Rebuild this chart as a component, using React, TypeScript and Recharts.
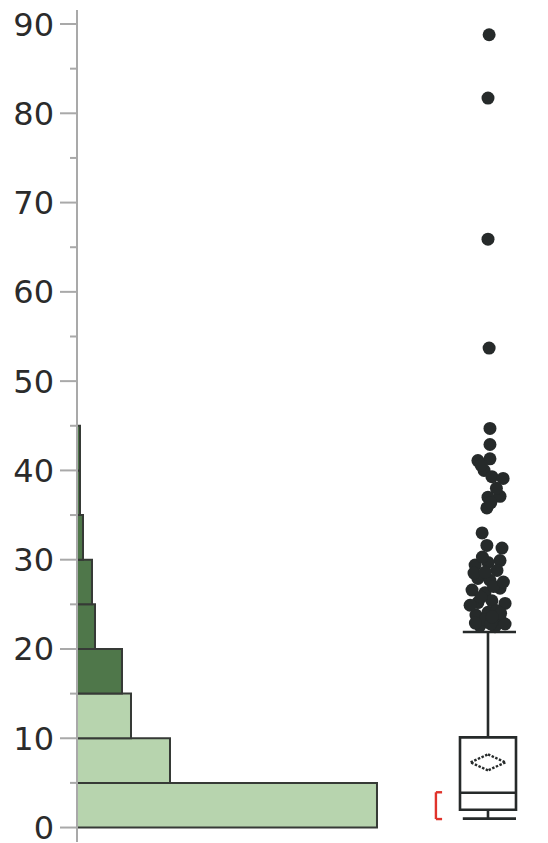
import { ComposedChart, Scatter, XAxis, YAxis, ReferenceArea, ReferenceLine } from 'recharts';

// histogram bins (value ranges) and counts
const BIN_LO = [0, 5, 10, 15, 20, 25, 30, 35, 40];
const BIN_HI = [5, 10, 15, 20, 25, 30, 35, 40, 45];
const BIN_COUNT = [100, 31, 18, 15, 6, 5, 2, 1, 1];
const BIN_SELECTED = [false, false, false, true, true, true, true, true, true];

const Y_TICKS = [0, 5, 10, 15, 20, 25, 30, 35, 40, 45, 50, 55, 60, 65, 70, 75, 80, 85, 90];
const Y_DOMAIN: [number, number] = [-1.62, 91.57];
const COUNT_DOMAIN: [number, number] = [0, 113.67];

// box plot summary
const WHISKER_LO = 1.0;
const Q1 = 2.0;
const MEDIAN = 3.9;
const Q3 = 10.1;
const WHISKER_HI = 21.9;
const MEAN = 7.3;
const MEAN_CI = [6.4, 8.2];
const SHORTEST_HALF = [0.95, 3.95];

// outliers: value and horizontal jitter (box half-width units)
const OUT_Y = [88.8, 81.7, 65.9, 53.7, 44.7, 42.9, 41.1, 41.3, 40.0, 39.3, 39.1, 37.0, 37.1, 35.8, 33.0,
  31.6, 31.3, 29.9, 29.4, 29.7, 28.8, 27.9, 27.7, 26.6, 26.3, 26.8, 25.2, 25.4, 25.1, 23.8, 24.1, 23.4,
  22.6, 22.5, 22.8, 24.9, 23.3, 24.3, 25.8, 27.0, 28.5, 27.5, 28.6, 24.0, 22.9, 22.8, 30.3, 23.6,
  40.6, 38.0, 36.4];
const OUT_JITTER = [0.04, 0, 0, 0.04, 0.07, 0.07, -0.36, 0.07, -0.14, 0.14, 0.54, 0, 0.43, -0.04, -0.21,
  -0.04, 0.5, 0.43, -0.46, 0, 0.32, -0.36, 0.07, -0.57, -0.11, 0.43, -0.36, 0.14, 0.61, -0.43, 0, 0.43,
  -0.29, 0.25, 0.61, -0.64, -0.11, 0.3, -0.25, 0.2, -0.5, 0.55, -0.1, 0.45, -0.45, 0.1, -0.2, 0.15,
  -0.25, 0.3, 0.1];

const LIGHT = '#b7d4ae';
const DARK = '#4f774a';
const EDGE = '#363a36';
const FRAME = '#a9a9a9';
const INK = '#262a2a';

const bins = BIN_LO.map((lo, i) => ({ lo, hi: BIN_HI[i], n: BIN_COUNT[i], sel: BIN_SELECTED[i] }));
const outliers = OUT_Y.map((y, i) => ({ x: OUT_JITTER[i], y }));

const YTick = (p: any) => {
  const v = p.payload.value;
  const major = v % 10 === 0;
  return (
    <g>
      <line x1={p.x - (major ? 17 : 7)} x2={p.x} y1={p.y} y2={p.y} stroke={FRAME} strokeWidth={2} />
      {major && (
        <text x={p.x - 23} y={p.y} dy="0.36em" textAnchor="end" fontSize={32} fill="#2b2b2b"
          fontFamily="'DejaVu Sans', Verdana, sans-serif">{v}</text>
      )}
    </g>
  );
};

const Dot = (p: any) => <circle cx={p.cx} cy={p.cy} r={6.5} fill={INK} />;

const H = 843;
const M = { top: 10, right: 0, bottom: 1, left: 0 };
const frameAxis = { stroke: FRAME, strokeWidth: 2 };

export default function App() {
  const box = { stroke: INK, strokeWidth: 2.6 };
  const diamond = { stroke: INK, strokeWidth: 2.4, strokeDasharray: '2.5 1.5' };
  const red = { stroke: '#e0332b', strokeWidth: 2.4 };
  return (
    <div style={{ position: 'absolute', left: 0, top: 0, width: 548, height: H, display: 'flex', background: '#fff' }}>
      <ComposedChart width={418} height={H} data={bins} margin={M}>
        <XAxis xAxisId="c" type="number" dataKey="n" domain={COUNT_DOMAIN} allowDataOverflow orientation="top" height={0}
          tick={false} tickLine={false} axisLine={frameAxis} />
        <XAxis xAxisId="b" type="number" dataKey="n" domain={COUNT_DOMAIN} allowDataOverflow orientation="bottom" height={0}
          tick={false} tickLine={false} axisLine={frameAxis} />
        <YAxis type="number" dataKey="lo" domain={Y_DOMAIN} ticks={Y_TICKS} allowDataOverflow width={77}
          tickSize={0} tickMargin={0} tickLine={false} axisLine={frameAxis} tick={<YTick />} interval={0} />
        {bins.map((b, i) => (
          <ReferenceArea key={i} xAxisId="c" x1={0} x2={b.n} y1={b.lo} y2={b.hi} ifOverflow="visible"
            fill={b.sel ? DARK : LIGHT} fillOpacity={1} stroke={EDGE} strokeWidth={2} />
        ))}
      </ComposedChart>
      <ComposedChart width={130} height={H} margin={M}>
        <XAxis xAxisId="t" type="number" domain={[-2.5, 2.143]} allowDataOverflow orientation="top" height={0}
          tick={false} tickLine={false} axisLine={frameAxis} />
        <XAxis dataKey="x" type="number" domain={[-2.5, 2.143]} orientation="bottom" height={0}
          tick={false} tickLine={false} axisLine={frameAxis} allowDataOverflow />
        <YAxis dataKey="y" type="number" domain={Y_DOMAIN} allowDataOverflow width={0}
          tick={false} tickLine={false} axisLine={frameAxis} />
        {/* whiskers */}
        <ReferenceLine segment={[{ x: 0, y: Q3 }, { x: 0, y: WHISKER_HI }]} {...box} />
        <ReferenceLine segment={[{ x: 0, y: WHISKER_LO }, { x: 0, y: Q1 }]} {...box} />
        <ReferenceLine segment={[{ x: -0.9, y: WHISKER_HI }, { x: 1, y: WHISKER_HI }]} {...box} />
        <ReferenceLine segment={[{ x: -0.9, y: WHISKER_LO }, { x: 1, y: WHISKER_LO }]} {...box} />
        {/* box */}
        <ReferenceArea x1={-1} x2={1} y1={Q1} y2={Q3} fill="#fff" fillOpacity={1} {...box} />
        <ReferenceLine segment={[{ x: -1, y: MEDIAN }, { x: 1, y: MEDIAN }]} {...box} />
        {/* mean diamond */}
        <ReferenceLine segment={[{ x: -0.62, y: MEAN }, { x: 0, y: MEAN_CI[1] }]} {...diamond} />
        <ReferenceLine segment={[{ x: 0, y: MEAN_CI[1] }, { x: 0.62, y: MEAN }]} {...diamond} />
        <ReferenceLine segment={[{ x: 0.62, y: MEAN }, { x: 0, y: MEAN_CI[0] }]} {...diamond} />
        <ReferenceLine segment={[{ x: 0, y: MEAN_CI[0] }, { x: -0.62, y: MEAN }]} {...diamond} />
        {/* shortest half bracket */}
        <ReferenceLine segment={[{ x: -1.86, y: SHORTEST_HALF[0] }, { x: -1.86, y: SHORTEST_HALF[1] }]} {...red} />
        <ReferenceLine segment={[{ x: -1.86, y: SHORTEST_HALF[0] }, { x: -1.64, y: SHORTEST_HALF[0] }]} {...red} />
        <ReferenceLine segment={[{ x: -1.86, y: SHORTEST_HALF[1] }, { x: -1.64, y: SHORTEST_HALF[1] }]} {...red} />
        <Scatter data={outliers} shape={<Dot />} isAnimationActive={false} />
      </ComposedChart>
    </div>
  );
}
